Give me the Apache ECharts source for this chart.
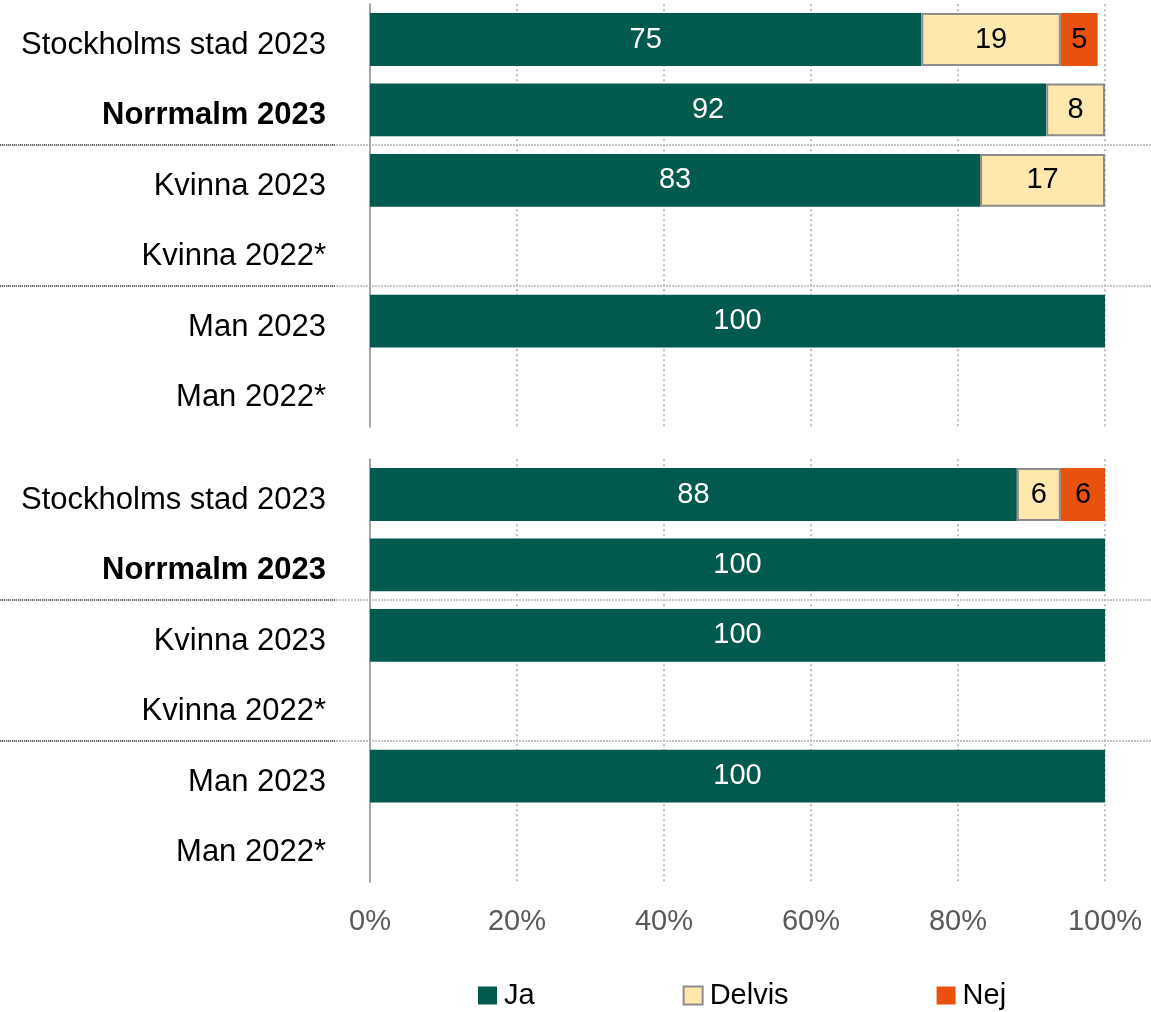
<!DOCTYPE html>
<html>
<head>
<meta charset="utf-8">
<style>
  html, body { margin: 0; padding: 0; background: #fff; }
  #chart { width: 1151px; height: 1012px; }
</style>
<script src="https://cdn.jsdelivr.net/npm/echarts@6/dist/echarts.min.js"></script>
</head>
<body>
<div id="chart"></div>
<script>
// Row labels shared by both panels
const categories = ['Stockholms stad 2023', 'Norrmalm 2023', 'Kvinna 2023', 'Kvinna 2022*', 'Man 2023', 'Man 2022*'];
const boldCategory = 'Norrmalm 2023';

// Upper panel (percent)
const jaTop     = [75, 92, 83, null, 100, null];
const delvisTop = [19, 8, 17, null, null, null];
const nejTop    = [5, null, null, null, null, null];

// Lower panel (percent)
const jaBottom     = [88, 100, 100, null, 100, null];
const delvisBottom = [6, null, null, null, null, null];
const nejBottom    = [6, null, null, null, null, null];

// Percent axis ticks
const xTicks = [0, 20, 40, 60, 80, 100];

// Rows before which a group separator is drawn ("Kvinna 2023" and "Man 2023")
const groupStarts = [2, 4];

const FONT = '"Liberation Sans", Arial, sans-serif';
const COLORS = { Ja: '#005A4E', Delvis: '#FFE8AD', Nej: '#E8520E' };

const panelTop = [4.3, 459.3];
const panelHeight = 422.4;
const band = panelHeight / categories.length;

function mainGrid(i) {
  return { left: 370, right: 46, top: panelTop[i], height: panelHeight, containLabel: false };
}
// A band spanning the two separator rows; its top and bottom split lines are the separators
function sepGrid(i, left, right) {
  const t = panelTop[i] + groupStarts[0] * band;
  const h = (groupStarts[1] - groupStarts[0]) * band;
  return { left: left, right: right, top: t, height: h, containLabel: false };
}

const grids = [
  mainGrid(0), mainGrid(1),
  sepGrid(0, 0, 0), sepGrid(1, 0, 0),
  sepGrid(0, 0, 815), sepGrid(1, 0, 815)
];

function valueAxis(gridIndex, showLabels) {
  return {
    type: 'value', gridIndex: gridIndex,
    min: xTicks[0], max: xTicks[xTicks.length - 1], interval: xTicks[1] - xTicks[0],
    axisLine: { show: false }, axisTick: { show: false },
    axisLabel: {
      show: showLabels, formatter: '{value}%', color: '#595959',
      fontSize: 29, fontFamily: FONT, margin: 26
    },
    splitLine: { show: true, lineStyle: { color: '#bfbfbf', width: 2, type: [2, 3] } }
  };
}
function hiddenValueAxis(gridIndex) {
  return { type: 'value', gridIndex: gridIndex, min: 0, max: 100, show: false };
}
function catAxis(gridIndex) {
  const base = { color: '#000', fontSize: 31, fontFamily: FONT, padding: [12, 0, 0, 0] };
  return {
    type: 'category', gridIndex: gridIndex, data: categories, inverse: true,
    axisLine: { show: true, lineStyle: { color: '#a6a6a6', width: 2 } },
    axisTick: { show: false },
    axisLabel: {
      margin: 44,
      formatter: v => (v === boldCategory ? '{b|' + v + '}' : '{n|' + v + '}'),
      rich: {
        n: base,
        b: Object.assign({}, base, { fontWeight: 'bold' })
      }
    },
    splitLine: { show: false }
  };
}
function sepAxis(gridIndex, color, dash) {
  return {
    type: 'value', gridIndex: gridIndex, min: 0, max: 1, interval: 1,
    axisLine: { show: false }, axisTick: { show: false }, axisLabel: { show: false },
    splitLine: { show: true, lineStyle: { color: color, width: 2, type: dash } }
  };
}

function barSeries(name, data, xi, yi, labelColor, bordered) {
  return {
    name: name, type: 'bar', stack: 'panel' + xi,
    xAxisIndex: xi, yAxisIndex: yi,
    data: data, barWidth: '75%',
    itemStyle: bordered
      ? { color: COLORS[name], borderColor: '#8c8c8c', borderWidth: 2 }
      : { color: COLORS[name] },
    label: {
      show: true, position: 'inside', color: labelColor,
      fontSize: 29, fontFamily: FONT,
      formatter: p => (p.value == null ? '' : String(p.value))
    },
    emphasis: { disabled: true },
    animation: false
  };
}

const option = {
  animation: false,
  textStyle: { fontFamily: FONT },
  grid: grids,
  xAxis: [
    valueAxis(0, false), valueAxis(1, true),
    hiddenValueAxis(2), hiddenValueAxis(3), hiddenValueAxis(4), hiddenValueAxis(5)
  ],
  yAxis: [
    catAxis(0), catAxis(1),
    sepAxis(2, '#c4c4c4', [2, 1]), sepAxis(3, '#c4c4c4', [2, 1]),
    sepAxis(4, '#6e6e6e', [1, 1]), sepAxis(5, '#6e6e6e', [1, 1])
  ],
  legend: {
    data: ['Ja', 'Delvis', 'Nej'],
    left: 478, top: 981, padding: 0,
    itemWidth: 19, itemHeight: 18, itemGap: 148,
    icon: 'rect',
    textStyle: { color: '#000', fontSize: 29, fontFamily: FONT, padding: [0, 0, 0, 2] },
    selectedMode: false
  },
  series: [
    barSeries('Ja', jaTop, 0, 0, '#fff', false),
    barSeries('Delvis', delvisTop, 0, 0, '#000', true),
    barSeries('Nej', nejTop, 0, 0, '#000', false),
    barSeries('Ja', jaBottom, 1, 1, '#fff', false),
    barSeries('Delvis', delvisBottom, 1, 1, '#000', true),
    barSeries('Nej', nejBottom, 1, 1, '#000', false)
  ]
};

const chart = echarts.init(document.getElementById('chart'), null, { renderer: 'canvas' });
chart.setOption(option);
</script>
</body>
</html>
